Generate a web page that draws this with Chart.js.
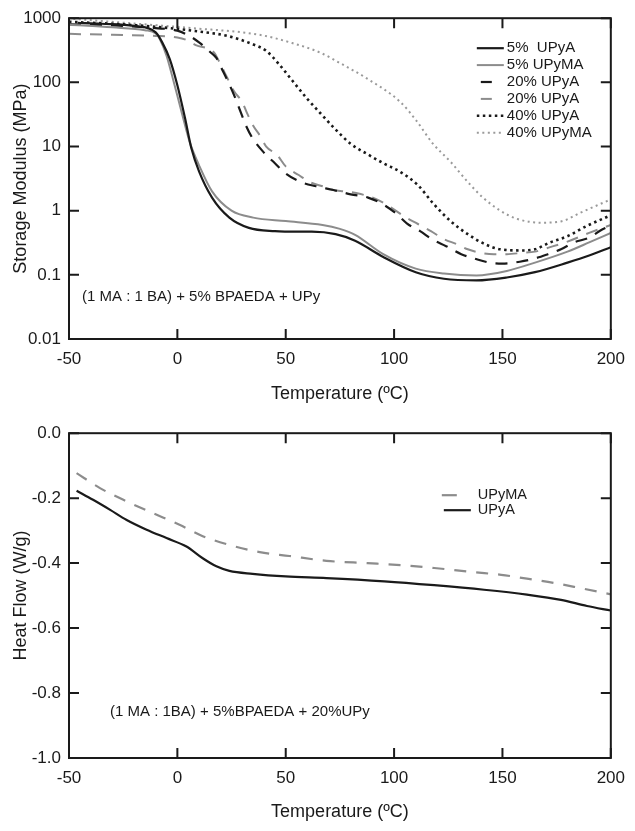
<!DOCTYPE html>
<html>
<head>
<meta charset="utf-8">
<script src="https://cdn.jsdelivr.net/npm/chart.js@4.4.0/dist/chart.umd.min.js"></script>
<style>
  body { margin: 0; background: #fff; }
  canvas { display: block; }
</style>
</head>
<body>
<canvas id="modulusChart" width="635" height="415"></canvas>
<canvas id="heatChart" width="635" height="416"></canvas>
<script>
// tick values
const tempTicks = [-50, 0, 50, 100, 150, 200]
const modulusTicks = [0.01, 0.1, 1, 10, 100, 1000]
const heatTicks = [-1.0, -0.8, -0.6, -0.4, -0.2, 0.0]

// storage modulus (MPa) vs temperature (C)
const t5A = [-46, -35, -20, -10, -7, -3.5, 0, 3.5, 6.5, 10, 16, 24, 33, 45, 56, 62, 73, 82, 95, 110, 123, 138, 152, 165, 180, 190, 200]
const e5A = [850, 820, 760, 600, 420, 230, 90, 28, 9.3, 4.1, 1.6, 0.78, 0.54, 0.48, 0.47, 0.47, 0.43, 0.34, 0.19, 0.11, 0.087, 0.082, 0.091, 0.11, 0.155, 0.2, 0.27]

const t5MA = [-50, -30, -15, -10, -8, -5, -2, 2, 5.7, 10, 16, 25, 35, 50, 67, 75, 82, 95, 110, 123, 138, 152, 165, 180, 190, 200]
const e5MA = [790, 720, 650, 580, 465, 260, 112, 34, 11.7, 5.1, 2.0, 1.0, 0.78, 0.69, 0.6, 0.52, 0.42, 0.21, 0.125, 0.105, 0.098, 0.115, 0.155, 0.23, 0.32, 0.45]

const t20A = [-50, -30, -10, 0, 6, 10, 15, 18, 21, 24, 27, 29, 32, 35, 40, 45, 50, 57, 64, 72, 80, 88, 95, 101, 106, 112, 118, 124, 131, 137, 144, 150, 158, 165, 171, 177, 183, 190, 196, 200]
const e20A = [800, 770, 700, 640, 520, 420, 300, 240, 150, 93, 54, 36, 20, 13, 8, 5.5, 3.8, 2.8, 2.4, 2.1, 1.8, 1.6, 1.25, 0.9, 0.63, 0.48, 0.35, 0.28, 0.21, 0.18, 0.155, 0.15, 0.16, 0.18, 0.21, 0.25, 0.32, 0.38, 0.51, 0.58]

const t20MA = [-50, -30, -10, 0, 4, 8.5, 17, 19, 23, 26, 30, 32, 35, 38, 41, 46, 50, 56, 61, 67, 72, 77, 83, 92, 99, 105, 111, 117, 123, 129, 134, 140, 146, 152, 159, 165, 172, 180, 190, 200]
const e20MA = [570, 550, 530, 500, 460, 380, 290, 220, 118, 74, 49, 34, 21, 15, 10, 7.4, 4.9, 3.6, 2.8, 2.4, 2.1, 2.0, 1.87, 1.5, 1.1, 0.8, 0.62, 0.48, 0.36, 0.30, 0.25, 0.22, 0.21, 0.21, 0.22, 0.23, 0.27, 0.33, 0.45, 0.6]

const t40A = [-50, -25, -3.5, 10, 23, 35, 41, 47, 53, 60, 66, 72, 80, 88, 95, 103, 111, 118, 126, 134, 142, 149, 159, 165, 172, 180, 189, 200]
const e40A = [880, 800, 700, 620, 530, 390, 310, 190, 107, 55, 33, 20, 11, 7.5, 5.5, 4, 2.5, 1.3, 0.69, 0.43, 0.30, 0.25, 0.24, 0.25, 0.32, 0.40, 0.58, 0.85]

const t40MA = [-48, -23, 7, 38, 53, 66, 75, 88, 103, 110, 118, 126, 134, 141, 149, 157, 168, 177, 186, 200]
const e40MA = [980, 840, 700, 550, 410, 290, 200, 112, 49, 26, 11, 5.8, 2.8, 1.6, 1.0, 0.74, 0.65, 0.68, 0.93, 1.5]

// heat flow (W/g) vs temperature (C)
const tUPyMA = [-46.5, -35.7, -23.4, -11.3, 1, 11.7, 24, 38, 51.7, 68.8, 87.7, 103, 118.5, 137, 149.4, 161.3, 173.7, 186, 200]
const hUPyMA = [-0.123, -0.169, -0.21, -0.246, -0.282, -0.317, -0.344, -0.366, -0.378, -0.393, -0.40, -0.406, -0.415, -0.428, -0.436, -0.448, -0.461, -0.477, -0.496]

const tUPyA = [-46.5, -38.9, -31, -23.4, -14.2, -5, 4.2, 11.7, 18, 24, 34.7, 50, 68.8, 95.5, 118.5, 141.5, 161.3, 177, 189, 200]
const hUPyA = [-0.177, -0.205, -0.236, -0.267, -0.297, -0.323, -0.349, -0.385, -0.41, -0.424, -0.433, -0.441, -0.446, -0.456, -0.468, -0.482, -0.497, -0.513, -0.532, -0.546]

const ink = "#1a1a1a"
const grey = "#8c8c8c"

Chart.defaults.font.family = "'Liberation Sans', Arial, sans-serif"
Chart.defaults.color = ink

const pairs = (xs, ys) => xs.map((x, i) => ({ x: x, y: ys[i] }))

const line = (label, xs, ys, color, width, dash) => ({
    label: label,
    data: pairs(xs, ys),
    borderColor: color,
    borderWidth: width,
    borderDash: dash,
    pointRadius: 0,
    fill: false,
    cubicInterpolationMode: "monotone"
})

// frame, inward ticks, legend and note
const decor = {
    id: "decor",
    afterDraw(chart, args, opts) {
        const { ctx, chartArea: a, scales } = chart
        ctx.save()
        ctx.strokeStyle = ink
        ctx.lineWidth = 2
        ctx.setLineDash([])
        ctx.strokeRect(a.left, a.top, a.right - a.left, a.bottom - a.top)
        ctx.beginPath()
        scales.x.ticks.forEach(t => {
            const px = scales.x.getPixelForValue(t.value)
            ctx.moveTo(px, a.bottom); ctx.lineTo(px, a.bottom - 10)
            ctx.moveTo(px, a.top); ctx.lineTo(px, a.top + 10)
        })
        scales.y.ticks.forEach(t => {
            const py = scales.y.getPixelForValue(t.value)
            ctx.moveTo(a.left, py); ctx.lineTo(a.left + 10, py)
            ctx.moveTo(a.right, py); ctx.lineTo(a.right - 10, py)
        })
        ctx.stroke()

        // legend
        const lg = opts.legend
        ctx.font = lg.size + "px 'Liberation Sans', Arial, sans-serif"
        ctx.textBaseline = "middle"
        ctx.textAlign = "left"
        chart.data.datasets.forEach((ds, i) => {
            const y = a.top + lg.dy + i * lg.row
            const x0 = a.right - lg.dx
            ctx.strokeStyle = ds.borderColor
            ctx.lineWidth = ds.borderWidth
            const dash = ds.borderDash || []
            if (dash.length && dash[0] > 6) {
                ctx.setLineDash([])
                ctx.beginPath()
                ctx.moveTo(x0 + lg.dashFrom, y); ctx.lineTo(x0 + lg.dashTo, y)
                ctx.stroke()
            } else {
                ctx.setLineDash(dash)
                ctx.beginPath()
                ctx.moveTo(x0 + lg.from, y); ctx.lineTo(x0 + lg.to, y)
                ctx.stroke()
            }
            ctx.setLineDash([])
            ctx.fillStyle = ink
            ctx.fillText(ds.label, x0 + lg.text, y)
        })

        // composition note
        const nt = opts.note
        ctx.font = nt.size + "px 'Liberation Sans', Arial, sans-serif"
        ctx.fillStyle = ink
        ctx.fillText(nt.text, a.left + nt.dx, a.bottom - nt.dy)
        ctx.restore()
    }
}

const axes = (yConf, xHeight, xTitlePad) => ({
    x: {
        type: "linear",
        min: -50,
        max: 200,
        afterBuildTicks: s => { s.ticks = tempTicks.map(v => ({ value: v })) },
        afterFit: s => { s.height = xHeight },
        grid: { display: false, drawTicks: false },
        border: { display: false },
        ticks: { padding: 10, font: { size: 17 }, color: ink },
        title: {
            display: true,
            text: "Temperature (ºC)",
            font: { size: 18 },
            color: ink,
            padding: { top: 0, bottom: xTitlePad }
        }
    },
    y: Object.assign({
        afterFit: s => { s.width = 69 },
        grid: { display: false, drawTicks: false },
        border: { display: false }
    }, yConf)
})

const modulusConfig = {
    type: "line",
    data: {
        datasets: [
            line("5%  UPyA", t5A, e5A, ink, 2.2, []),
            line("5% UPyMA", t5MA, e5MA, grey, 2, []),
            line("20% UPyA", t20A, e20A, ink, 2.2, [12, 9]),
            line("20% UPyA", t20MA, e20MA, grey, 2, [12, 9]),
            line("40% UPyA", t40A, e40A, ink, 2.6, [2.5, 3.5]),
            line("40% UPyMA", t40MA, e40MA, "#9a9a9a", 2, [2, 3.5])
        ]
    },
    options: {
        responsive: false,
        animation: false,
        layout: { padding: { top: 15, right: 23, left: 0, bottom: 0 } },
        scales: axes({
            type: "logarithmic",
            min: 0.01,
            max: 1000,
            afterBuildTicks: s => { s.ticks = modulusTicks.map(v => ({ value: v })) },
            ticks: { padding: 8, font: { size: 17 }, color: ink, callback: v => String(v) },
            title: {
                display: true,
                text: "Storage Modulus (MPa)",
                font: { size: 18 },
                color: ink,
                padding: { top: 10, bottom: 0 }
            }
        }, 76, 10),
        plugins: {
            legend: { display: false },
            tooltip: { enabled: false },
            decor: {
                legend: { size: 15, dx: 134, dy: 30, row: 16.9, from: 0, to: 27, dashFrom: 4, dashTo: 15, text: 30 },
                note: { text: "(1 MA : 1 BA) + 5% BPAEDA + UPy", size: 15, dx: 13, dy: 42 }
            }
        }
    },
    plugins: [decor]
}

const heatConfig = {
    type: "line",
    data: {
        datasets: [
            line("UPyMA", tUPyMA, hUPyMA, grey, 2.2, [12, 10]),
            line("UPyA", tUPyA, hUPyA, ink, 2.2, [])
        ]
    },
    options: {
        responsive: false,
        animation: false,
        layout: { padding: { top: 18, right: 23, left: 0, bottom: 0 } },
        scales: axes({
            type: "linear",
            min: -1,
            max: 0,
            afterBuildTicks: s => { s.ticks = heatTicks.map(v => ({ value: v })) },
            ticks: { padding: 8, font: { size: 17 }, color: ink, callback: v => v.toFixed(1) },
            title: {
                display: true,
                text: "Heat Flow (W/g)",
                font: { size: 18 },
                color: ink,
                padding: { top: 10, bottom: 0 }
            }
        }, 73, 8),
        plugins: {
            legend: { display: false },
            tooltip: { enabled: false },
            decor: {
                legend: { size: 14.5, dx: 169, dy: 62, row: 15, from: 2, to: 29, dashFrom: 0, dashTo: 15, text: 36 },
                note: { text: "(1 MA : 1BA) + 5%BPAEDA + 20%UPy", size: 15, dx: 41, dy: 46 }
            }
        }
    },
    plugins: [decor]
}

const modulusChart = new Chart(document.getElementById("modulusChart"), modulusConfig)
const heatChart = new Chart(document.getElementById("heatChart"), heatConfig)
</script>
</body>
</html>
